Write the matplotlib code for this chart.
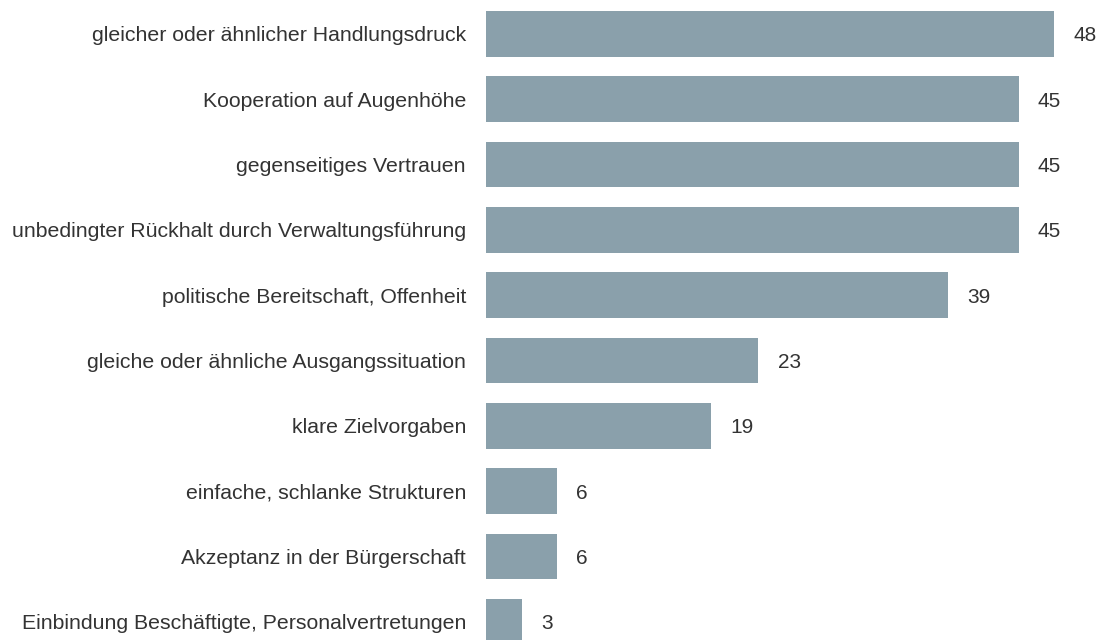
import matplotlib.pyplot as plt

plt.rcParams['font.family'] = ['Liberation Sans', 'DejaVu Sans']

labels = [
    'gleicher oder ähnlicher Handlungsdruck',
    'Kooperation auf Augenhöhe',
    'gegenseitiges Vertrauen',
    'unbedingter Rückhalt durch Verwaltungsführung',
    'politische Bereitschaft, Offenheit',
    'gleiche oder ähnliche Ausgangssituation',
    'klare Zielvorgaben',
    'einfache, schlanke Strukturen',
    'Akzeptanz in der Bürgerschaft',
    'Einbindung Beschäftigte, Personalvertretungen',
]
values = [48, 45, 45, 45, 39, 23, 19, 6, 6, 3]

fig = plt.figure(figsize=(11, 6.4), dpi=100)
ax = fig.add_axes([486 / 1100, 0, 568 / 1100, 1])

pos = list(range(len(values)))
ax.barh(pos, values, height=0.70, color='#8aa0ab')
ax.set_xlim(0, 48)
ax.set_ylim(9.28, -0.52)

for p, v, lab in zip(pos, values, labels):
    ax.annotate(str(v), (v, p), xytext=(14, 0), textcoords='offset points',
                va='center_baseline', ha='left', fontsize=15, color='#333333',
                annotation_clip=False)
    ax.annotate(lab, (0, p), xytext=(-14.4, 0), textcoords='offset points',
                va='center_baseline', ha='right', fontsize=15.3, color='#333333',
                annotation_clip=False)

ax.axis('off')
fig.savefig('out.png', dpi=100)
